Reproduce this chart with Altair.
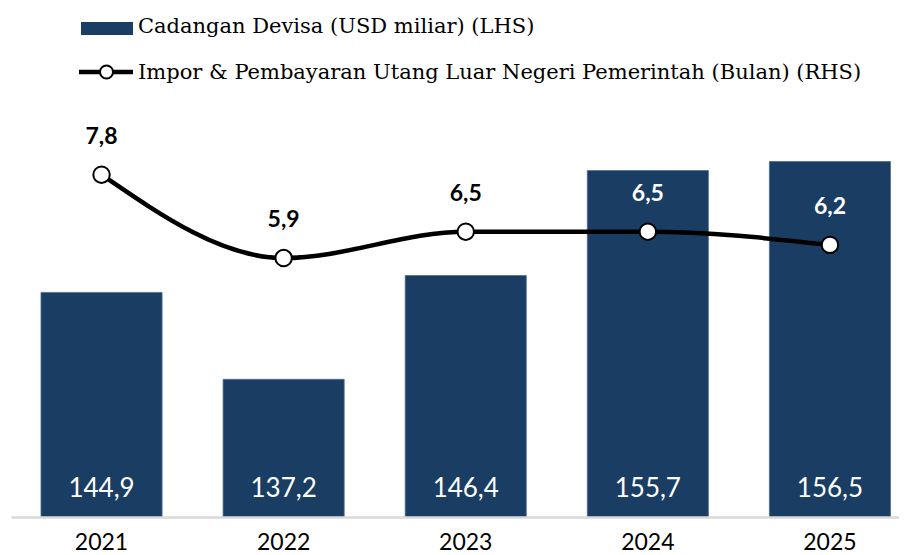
import altair as alt
import pandas as pd

# ---- data ----
years = ["2021", "2022", "2023", "2024", "2025"]
reserves = [144.9, 137.2, 146.4, 155.7, 156.5]          # USD miliar (LHS)
months = [7.8, 5.9, 6.5, 6.5, 6.2]                      # Bulan (RHS)
legend_labels = [
    "Cadangan Devisa (USD miliar) (LHS)",
    "Impor & Pembayaran Utang Luar Negeri Pemerintah (Bulan) (RHS)",
]

df = pd.DataFrame({"year": years, "reserve": reserves, "months": months})
one = pd.DataFrame({"a": [0]})

W, H = 888, 395
NAVY = "#1a3d64"
LEG_FONT = "DejaVu Serif"
Y_MIN = 125

xenc = alt.X(
    "year:N",
    sort=years,
    scale=alt.Scale(paddingInner=0.335, paddingOuter=0.1057, align=0.779),
    axis=alt.Axis(
        title=None, labelAngle=0, labelFont="Lato", labelFontSize=23,
        labelColor="black", labelPadding=14, ticks=False, tickSize=0,
        domainColor="#d9d9d9", domainWidth=2.5, grid=False, zindex=1,
    ),
)

base = alt.Chart(df)
fmt = "replace(format(datum.{f}, '.1f'), '.', ',')"

bars = base.mark_bar(color=NAVY, stroke="#4f6d90", strokeWidth=0.8).encode(
    x=xenc,
    y=alt.Y("reserve:Q", scale=alt.Scale(domain=[Y_MIN, 160], zero=False), axis=None),
    y2=alt.datum(Y_MIN),
)

bar_text = base.mark_text(
    font="Lato", fontSize=26, color="white", baseline="alphabetic", dy=-20
).transform_calculate(lbl=fmt.format(f="reserve")).encode(
    x=xenc, y=alt.value(H), text="lbl:N"
)

yline = alt.Y("months:Q", scale=alt.Scale(domain=[0, 9]), axis=None)

line = base.mark_line(color="black", strokeWidth=4.5, interpolate="monotone").encode(
    x=xenc, y=yline
)

pts = base.mark_point(
    shape="circle", filled=True, fill="white", stroke="black",
    strokeWidth=2, size=270, opacity=1,
).encode(x=xenc, y=yline)

line_text = base.mark_text(
    font="Lato", fontSize=23, fontWeight="bold", baseline="middle", dy=-38
).transform_calculate(lbl=fmt.format(f="months")).encode(
    x=xenc, y=yline, text="lbl:N",
    color=alt.condition("datum.reserve > 150", alt.value("white"), alt.value("black")),
)

# ---- legend (manual) ----
leg_rect = alt.Chart(one).mark_rect(color=NAVY).encode(
    x=alt.value(70), x2=alt.value(122), y=alt.value(-100), y2=alt.value(-87)
)
leg_rule = alt.Chart(one).mark_rule(color="black", strokeWidth=4.5).encode(
    x=alt.value(68), x2=alt.value(122), y=alt.value(-50)
)
leg_pt = alt.Chart(one).mark_point(
    shape="circle", filled=True, fill="white", stroke="black",
    strokeWidth=2, size=170, opacity=1,
).encode(x=alt.value(95.5), y=alt.value(-50))
leg_t1 = alt.Chart(pd.DataFrame({"t": [legend_labels[0]]})).mark_text(
    font=LEG_FONT, fontSize=21, align="left", baseline="alphabetic", color="black"
).encode(x=alt.value(127), y=alt.value(-89), text="t:N")
leg_t2 = alt.Chart(pd.DataFrame({"t": [legend_labels[1]]})).mark_text(
    font=LEG_FONT, fontSize=21, align="left", baseline="alphabetic", color="black"
).encode(x=alt.value(127), y=alt.value(-43), text="t:N")

chart = (
    alt.layer(bars, bar_text, line, pts, line_text,
              leg_rect, leg_rule, leg_pt, leg_t1, leg_t2)
    .resolve_scale(y="independent")
    .properties(
        width=W, height=H,
        autosize=alt.AutoSizeParams(type="none"),
        padding={"left": 3, "top": 114, "right": 0, "bottom": 36},
        background="white",
    )
    .configure_view(stroke=None)
)

chart.save("out.html", embed_options={"renderer": "svg", "actions": False})
